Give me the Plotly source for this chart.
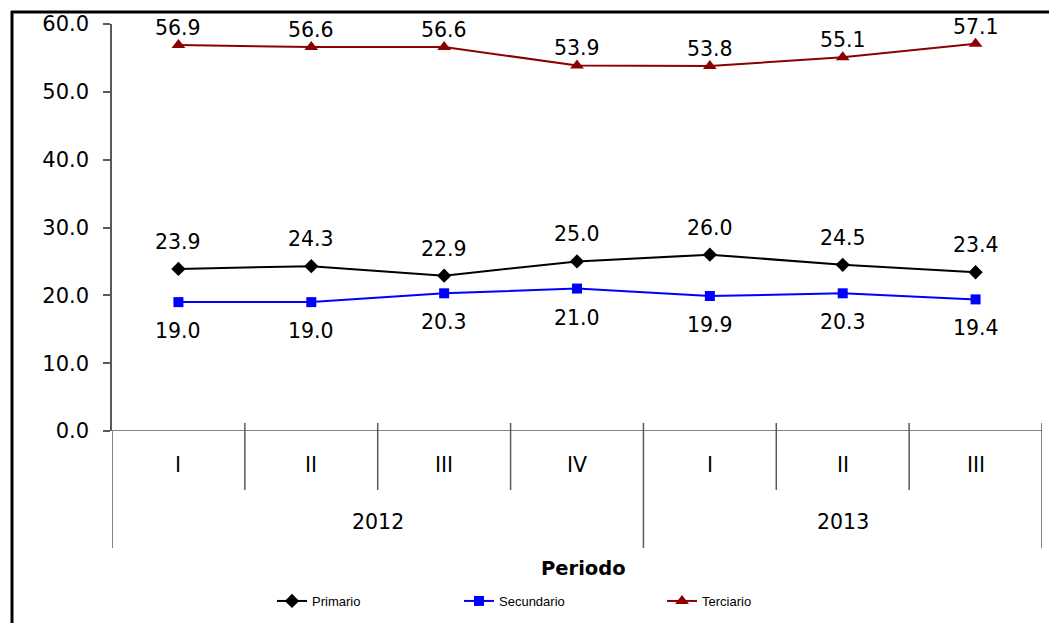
import plotly.graph_objects as go

periodos = ["I", "II", "III", "IV", "I", "II", "III"]
anios = ["2012", "2012", "2012", "2012", "2013", "2013", "2013"]
primario = [23.9, 24.3, 22.9, 25.0, 26.0, 24.5, 23.4]
secundario = [19.0, 19.0, 20.3, 21.0, 19.9, 20.3, 19.4]
terciario = [56.9, 56.6, 56.6, 53.9, 53.8, 55.1, 57.1]
y_ticks = [0, 10, 20, 30, 40, 50, 60]

W, H = 1049, 623
L, R, T, B = 112, 7, 24, 192
pw, ph = W - L - R, H - T - B


def px_x(p):
    return (p - L) / pw


def px_y(p):
    return (H - B - p) / ph


FONT = "DejaVu Sans, Verdana, sans-serif"
LFONT = "Liberation Sans, Arial, sans-serif"
xs = list(range(len(periodos)))

fig = go.Figure()
series = [
    ("Primario", primario, "#000000", "diamond", 11, 27, "legend"),
    ("Secundario", secundario, "#0000FF", "square", 10, -29, "legend2"),
    ("Terciario", terciario, "#8B0000", "triangle-up", 12, 17, "legend3"),
]
for name, vals, col, sym, msz, shift, lg in series:
    fig.add_trace(go.Scatter(
        x=xs, y=vals, name=name, mode="lines+markers",
        line=dict(color=col, width=2),
        marker=dict(symbol=sym, size=msz, color=col),
        legend=lg, cliponaxis=False, showlegend=True,
    ))
    for xi, v in zip(xs, vals):
        fig.add_annotation(x=xi, y=v, text=f"{v:.1f}", showarrow=False,
                           xanchor="center", yanchor="middle",
                           yshift=shift, font=dict(size=20.5, color="#000", family=FONT))

AX = "#5a5a5a"
shapes = []
n = len(periodos)
for i in range(n + 1):
    xb = i - 0.5
    y0 = 0.0 if i == 0 else px_y(423)
    if i == 0 or i == n:
        long_ = True
    else:
        long_ = anios[i - 1] != anios[i]
    y1 = px_y(548) if long_ else px_y(490)
    shapes.append(dict(type="line", xref="x", yref="paper", x0=xb, x1=xb, y0=y0, y1=y1,
                       line=dict(color=AX, width=1.5)))
# frame lines
shapes.append(dict(type="line", xref="paper", yref="paper", x0=px_x(12), x1=px_x(12),
                   y0=px_y(11), y1=px_y(630), line=dict(color="#000", width=3)))
shapes.append(dict(type="line", xref="paper", yref="paper", x0=px_x(11), x1=px_x(1060),
                   y0=px_y(12), y1=px_y(12), line=dict(color="#000", width=3)))
# x axis baseline
shapes.append(dict(type="line", xref="paper", yref="y", x0=px_x(105), x1=1, y0=0, y1=0,
                   line=dict(color=AX, width=1.5)))
fig.update_layout(shapes=shapes)

for xi, p in zip(xs, periodos):
    fig.add_annotation(x=xi, xref="x", y=px_y(465), yref="paper", text=p, showarrow=False,
                       xanchor="center", yanchor="middle",
                       font=dict(size=20.5, color="#000", family=FONT))
for yr in sorted(set(anios)):
    idx = [i for i, a in enumerate(anios) if a == yr]
    fig.add_annotation(x=(idx[0] + idx[-1]) / 2, xref="x", y=px_y(522), yref="paper", text=yr,
                       xanchor="center", yanchor="middle",
                       showarrow=False, font=dict(size=20.5, color="#000", family=FONT))
fig.add_annotation(x=px_x(583), xref="paper", y=px_y(568), yref="paper", text="<b>Periodo</b>",
                   xanchor="center", yanchor="middle",
                   showarrow=False, font=dict(size=19.5, color="#000", family=FONT))

leg_common = dict(orientation="h", yanchor="middle", xanchor="left",
                  font=dict(size=13, color="#000", family=LFONT), bgcolor="rgba(0,0,0,0)")
fig.update_layout(
    width=W, height=H,
    margin=dict(l=L, r=R, t=T, b=B, autoexpand=False),
    paper_bgcolor="white", plot_bgcolor="white",
    font=dict(family=FONT, color="#000"),
    showlegend=True,
    xaxis=dict(range=[-0.5, n - 0.5], showticklabels=False, ticks="",
               showgrid=False, zeroline=False, showline=False, fixedrange=True),
    yaxis=dict(range=[0, 60], tickvals=y_ticks, ticktext=[f"{v:.1f}" for v in y_ticks],
               ticks="outside", ticklen=7, tickcolor=AX, tickwidth=1.5,
               showgrid=False, zeroline=False, showline=True, linecolor=AX, linewidth=1.5,
               tickfont=dict(size=21, color="#000", family=FONT), ticklabelstandoff=10),
    legend=dict(x=px_x(272), y=px_y(601), **leg_common),
    legend2=dict(x=px_x(459), y=px_y(601), **leg_common),
    legend3=dict(x=px_x(662), y=px_y(601), **leg_common),
)

fig.write_html("out.html", config={"displayModeBar": False},
               post_script="document.body.style.margin='0';document.body.style.overflow='hidden';")
